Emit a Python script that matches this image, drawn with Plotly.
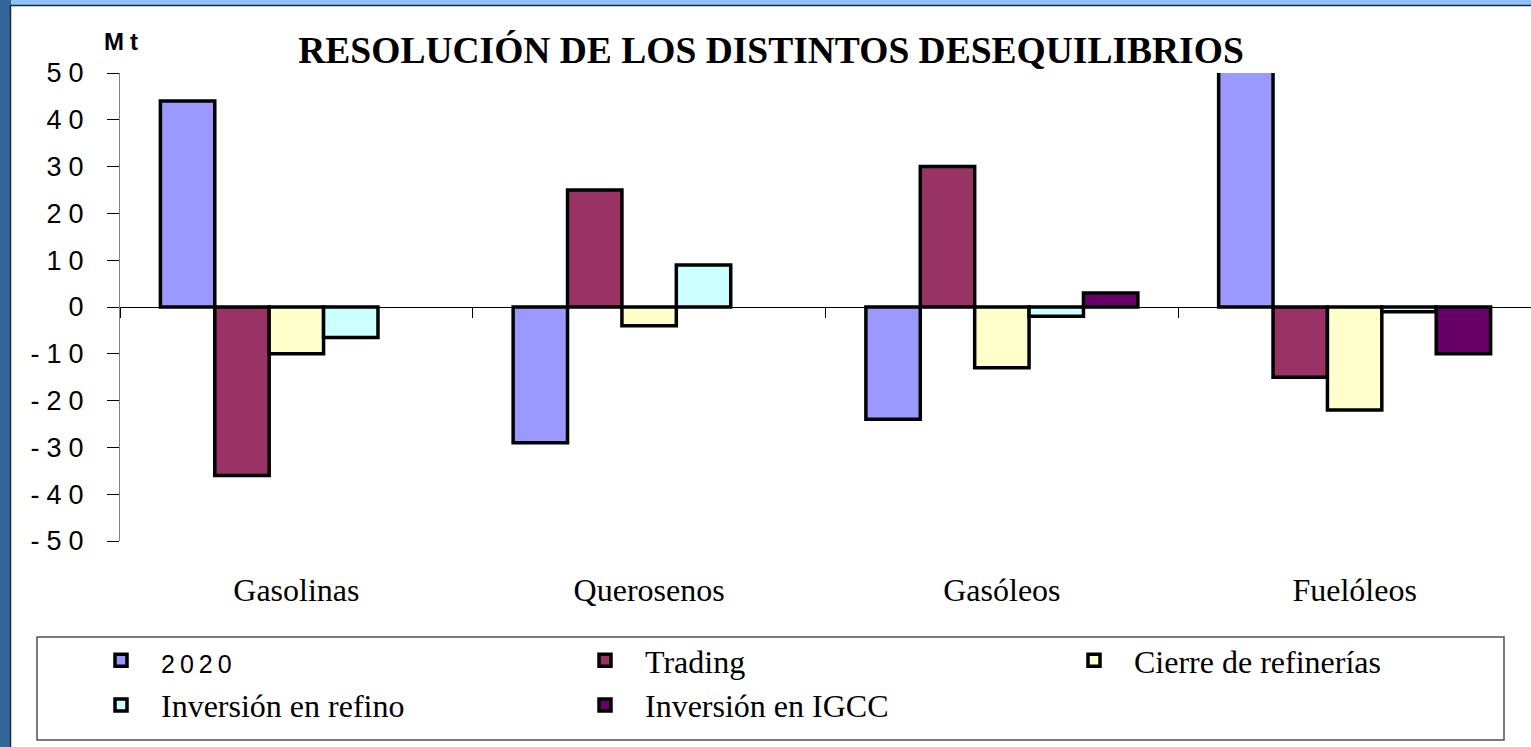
import plotly.graph_objects as go

W, H = 1531, 747

categories = ["Gasolinas", "Querosenos", "Gasóleos", "Fuelóleos"]

series_names = ["2020", "Trading", "Cierre de refinerías", "Inversión en refino", "Inversión en IGCC"]
v_2020 = [44, -29, -24, 55]
v_trading = [-36, 25, 30, -15]
v_cierre = [-10, -4, -13, -22]
v_refino = [-6.5, 9, -2, -1]
v_igcc = [None, None, 3, -10]

colors = ["#9999FF", "#993366", "#FFFFCC", "#CCFFFF", "#660066"]
legend_ids = ["legend", "legend2", "legend3", "legend", "legend2"]

y_ticks = list(range(-50, 51, 10))

# plot area in pixels
L, R, T, B = 120, 0, 73, 206
pw, ph = W - L - R, H - T - B


def px_x(x):
    return (x - L) / pw


def px_y(y):
    return (H - B - y) / ph


def spaced(s, sp=7):
    return f'<span style="letter-spacing:{sp}px">{s}</span>'


fig = go.Figure()
names = [
    '<span style="font-family:Liberation Sans;font-size:25px;letter-spacing:5px">2020</span>',
    "Trading", "Cierre de refinerías", "Inversión en refino", "Inversión en IGCC",
]
for name, vals, col, lg in zip(names, [v_2020, v_trading, v_cierre, v_refino, v_igcc], colors, legend_ids):
    fig.add_trace(go.Bar(
        x=categories, y=vals, name=name, legend=lg,
        marker=dict(color=col, line=dict(color="black", width=3.5)),
    ))

fig.update_layout(
    width=W, height=H,
    margin=dict(l=L, r=R, t=T, b=B, autoexpand=False),
    paper_bgcolor="white", plot_bgcolor="white",
    barmode="group", bargap=0.229, bargroupgap=0,
    title=dict(
        text="RESOLUCIÓN DE LOS DISTINTOS DESEQUILIBRIOS",
        font=dict(family="Liberation Serif", size=37.5, color="black", weight="bold"),
        xref="container", yref="container", x=771 / W, y=1 - 50 / H,
        xanchor="center", yanchor="middle",
    ),
    xaxis=dict(
        type="category", anchor="free", position=0.5,
        showline=False, showgrid=False, zeroline=False,
        tickson="boundaries", ticks="outside", ticklen=10, tickcolor="black", tickwidth=1,
        ticklabelstandoff=261, tickangle=0, automargin=False,
        tickfont=dict(family="Liberation Serif", size=32, color="black"),
    ),
    yaxis=dict(
        range=[-50, 50], tickvals=y_ticks, ticktext=[spaced(str(v)) for v in y_ticks],
        showline=True, linecolor="#808080", linewidth=1,
        ticks="outside", ticklen=12, tickcolor="black", tickwidth=1,
        ticklabelstandoff=11, automargin=False,
        showgrid=False, zeroline=True, zerolinecolor="black", zerolinewidth=1,
        tickfont=dict(family="Liberation Sans", size=27, color="black"),
    ),
    annotations=[dict(
        text='<b><span style="letter-spacing:6px">Mt</span></b>',
        xref="paper", yref="paper", x=px_x(102), y=px_y(41),
        xanchor="left", yanchor="middle", showarrow=False,
        font=dict(family="Liberation Sans", size=24, color="black"),
    )],
    shapes=[
        # window frame
        dict(type="rect", xref="paper", yref="paper", x0=px_x(0), x1=px_x(11), y0=px_y(H), y1=px_y(0),
             fillcolor="#336699", line=dict(width=0), layer="above"),
        dict(type="rect", xref="paper", yref="paper", x0=px_x(11), x1=px_x(W), y0=px_y(6), y1=px_y(0),
             fillcolor="#8EC2F5", line=dict(width=0), layer="above"),
        dict(type="line", xref="paper", yref="paper", x0=px_x(11), x1=px_x(W), y0=px_y(5.5), y1=px_y(5.5),
             line=dict(color="#1a2a40", width=1.5), layer="above"),
        dict(type="line", xref="paper", yref="paper", x0=px_x(10.5), x1=px_x(10.5), y0=px_y(H), y1=px_y(5),
             line=dict(color="#1a2a40", width=1.5), layer="above"),
        # legend box
        dict(type="rect", xref="paper", yref="paper", x0=px_x(37), x1=px_x(1504), y0=px_y(740), y1=px_y(637),
             line=dict(color="#505050", width=1.5)),
    ],
    showlegend=True,
)

leg_common = dict(
    xref="container", yref="container", xanchor="left", yanchor="top",
    orientation="v", bgcolor="rgba(0,0,0,0)", borderwidth=0, itemwidth=70,
    tracegroupgap=0,
    font=dict(family="Liberation Serif", size=32, color="black"),
)
fig.update_layout(
    legend=dict(x=81 / W, y=1 - 633 / H, **leg_common),
    legend2=dict(x=565 / W, y=1 - 633 / H, **leg_common),
    legend3=dict(x=1054 / W, y=1 - 633 / H, **leg_common),
)

# page has a default 8px body margin; drop it so the figure fills the window
fig.write_html("out.html", config={"displayModeBar": False},
               post_script="document.body.style.margin='0px';")
